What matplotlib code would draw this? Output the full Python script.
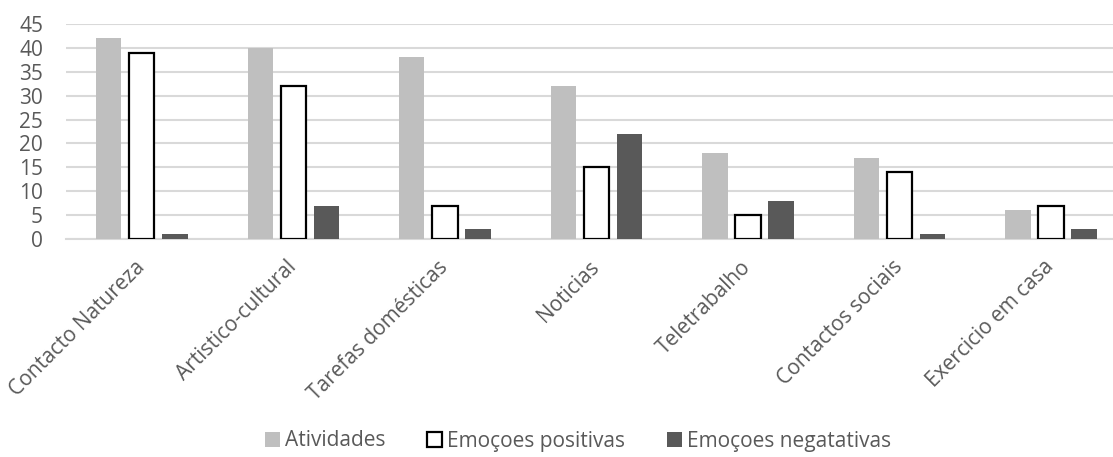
import matplotlib
matplotlib.use("Agg")
import matplotlib.pyplot as plt
import numpy as np

categories = ["Contacto Natureza", "Artistico-cultural", "Tarefas domésticas",
              "Noticias", "Teletrabalho", "Contactos sociais", "Exercicio em casa"]
atividades = [42, 40, 38, 32, 18, 17, 6]
emocoes_positivas = [39, 32, 7, 15, 5, 14, 7]
emocoes_negativas = [1, 7, 2, 22, 8, 1, 2]
series_names = ["Atividades", "Emoçoes positivas", "Emoçoes negatativas"]
y_ticks = list(range(0, 50, 5))

plt.rcParams["font.family"] = ["Open Sans", "DejaVu Sans"]
text_color = "#595959"

fig = plt.figure(figsize=(11.13, 4.57), dpi=100)
ax = fig.add_axes([66 / 1113, 1 - 239 / 457, 1 - 66 / 1113, (239 - 24) / 457])

x = np.arange(len(categories))
w = 0.168
off = 0.218
ax.bar(x - off, atividades, width=w, color="#bfbfbf", label=series_names[0], zorder=3)
ax.bar(x, emocoes_positivas, width=w, color="white", edgecolor="black",
       linewidth=1.6, label=series_names[1], zorder=3)
ax.bar(x + off, emocoes_negativas, width=w, color="#595959", label=series_names[2], zorder=3)

ax.set_ylim(0, 45)
ax.set_yticks(y_ticks)
ax.set_xlim(-0.5, 6.41)
ax.yaxis.grid(True, color="#d9d9d9", linewidth=1.5, zorder=0)
ax.set_axisbelow(True)
for s in ["top", "right", "left"]:
    ax.spines[s].set_visible(False)
ax.spines["bottom"].set_color("#d9d9d9")
ax.spines["bottom"].set_linewidth(1.5)
ax.tick_params(axis="both", length=0, labelsize=15, colors=text_color)
ax.tick_params(axis="y", pad=16.5)
ax.set_xticks(x)
ax.set_xticklabels(categories, rotation=45, ha="right", va="center",
                   rotation_mode="anchor")
ax.tick_params(axis="x", pad=18)

leg = fig.legend(loc="center", bbox_to_anchor=(578 / 1113, 1 - 441 / 457), ncol=3,
                 frameon=False, fontsize=15, handlelength=0.72, handleheight=0.72,
                 columnspacing=2.0, handletextpad=0.25)
for t in leg.get_texts():
    t.set_color(text_color)

fig.savefig("out.png", dpi=100)
